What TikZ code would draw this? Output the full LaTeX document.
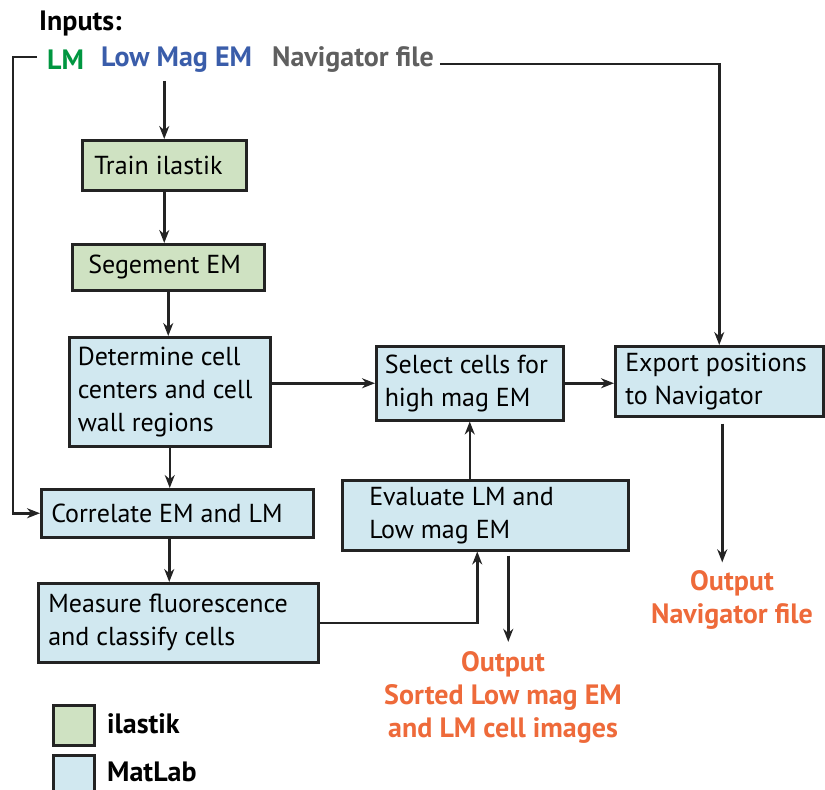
\documentclass[tikz,border=0pt]{standalone}
\usepackage{fontspec}
\setmainfont{PT Sans}
\usetikzlibrary{arrows.meta,calc,positioning}
\definecolor{ilgreen}{RGB}{207,226,194}
\definecolor{mlblue}{RGB}{209,232,240}
\definecolor{lmgreen}{RGB}{0,150,64}
\definecolor{emblue}{RGB}{58,93,170}
\definecolor{navgray}{RGB}{95,95,95}
\definecolor{outorange}{RGB}{238,106,58}
\definecolor{ink}{RGB}{35,35,35}
\tikzset{
    stage/.style={draw=ink, line width=2.5pt, anchor=north west, align=flush left,
    inner ysep=0pt, font=\fontsize{26}{33}\selectfont},
    ilbox/.style={stage, fill=ilgreen},
    mlbox/.style={stage, fill=mlblue},
    lbl/.style={anchor=west, inner sep=0pt, font=\fontsize{28}{30}\selectfont\bfseries},
    outlbl/.style={align=center, inner sep=0pt, text=outorange,
    font=\fontsize{28}{33}\selectfont\bfseries},
    key/.style={draw=ink, line width=2.5pt, anchor=north west,
    minimum width=41pt, minimum height=40pt, inner sep=0pt},
    arr/.style={draw=ink, line width=2.5pt, -{Stealth[length=13pt,width=10pt]}}
}
\begin{document}
\begin{tikzpicture}[x=1pt,y=-1pt]
    \useasboundingbox (0,0) rectangle (825,790);
    % inputs
    \node (inputs) [lbl] at (39,23) {Inputs:};
    \node (lm) [lbl,text=lmgreen] at (47,60) {LM};
    \node (lowmag) [lbl,text=emblue] at (101,60) {Low Mag EM};
    \node (navfile) [lbl,text=navgray] at (272,60) {Navigator file};
    \coordinate (leftrail) at (13,0);
    % ilastik steps
    \node (train) [ilbox,minimum width=164pt,minimum height=50pt,
        text width=140pt,inner xsep=12pt] at (81,139) {Train ilastik};
    \node (segment) [ilbox,minimum width=192pt,minimum height=46pt,
        text width=160pt,inner xsep=16pt] at (71,243) {Segement EM};
    % matlab steps
    \node (determine) [mlbox,minimum width=201pt,minimum height=109pt,
        text width=184pt,inner xsep=8.5pt] at (68,336) {Determine cell\\centers and cell\\wall regions};
    \node (correlate) [mlbox,minimum width=272pt,minimum height=48pt,
        text width=252pt,inner xsep=10pt] at (40,488) {Correlate EM and LM};
    \node (measure) [mlbox,minimum width=280pt,minimum height=79pt,
        text width=260pt,inner xsep=10pt] at (37,582) {Measure fluorescence\\and classify cells};
    \node (select) [mlbox,minimum width=187pt,minimum height=74pt,
        text width=170pt,inner xsep=8.5pt] at (375,345) {Select cells for\\high mag EM};
    \node (evaluate) [mlbox,minimum width=286pt,minimum height=70pt,
        text width=232pt,inner xsep=27pt] at (341,479) {Evaluate LM and\\Low mag EM};
    \node (export) [mlbox,minimum width=208pt,minimum height=70pt,
        text width=188pt,inner xsep=10pt,xshift=9pt] at (605,345) {Export positions\\to Navigator};
    % outputs
    \node (out1) [outlbl] at (503,697) {Output\\Sorted Low mag EM\\and LM cell images};
    \node (out2) [outlbl] at (732,600) {Output\\Navigator file};
    % legend
    \node (keyil) [key,fill=ilgreen] at (52,704) {};
    \node (keyml) [key,fill=mlblue] at (52,754) {};
    \node (ilastik) [lbl,text=black] at (107,724) {ilastik};
    \node (matlab) [lbl,text=black] at (107,772) {MatLab};
    % connectors
    \draw[arr] ([xshift=-10pt,yshift=3pt]lm.west) -- ([yshift=3pt]lm.west -| leftrail) |- (correlate.west);
    \draw[arr] ([yshift=-8pt]lowmag.south -| train.north) -- (train.north);
    \path (train.south) edge [arr] (train.south |- segment.north);
    \path (segment.south) edge [arr] (segment.south |- determine.north);
    \path (determine.south) edge [arr] (determine.south |- correlate.north);
    \path ([xshift=-8pt]correlate.south) edge [arr] ([xshift=-8pt]correlate.south |- measure.north);
    \path (determine.east |- select.west) edge [arr] (select.west);
    \path (select.east) edge [arr] (select.east -| export.west);
    \path (select.south |- evaluate.north) edge [arr] (select.south);
    \draw[arr] (measure.east) -| ([xshift=-8pt]evaluate.south);
    \draw[arr,shorten <=4pt,shorten >=9pt] ([xshift=23pt]evaluate.south) -- ([xshift=23pt]evaluate.south |- out1.north);
    \draw[arr,shorten <=6pt] ([yshift=-4pt]navfile.east) -| (export.north);
    \draw[arr,shorten <=6pt,shorten >=8pt] ([xshift=3pt]export.south) -- ([xshift=3pt]export.south |- out2.north);
\end{tikzpicture}
\end{document}
